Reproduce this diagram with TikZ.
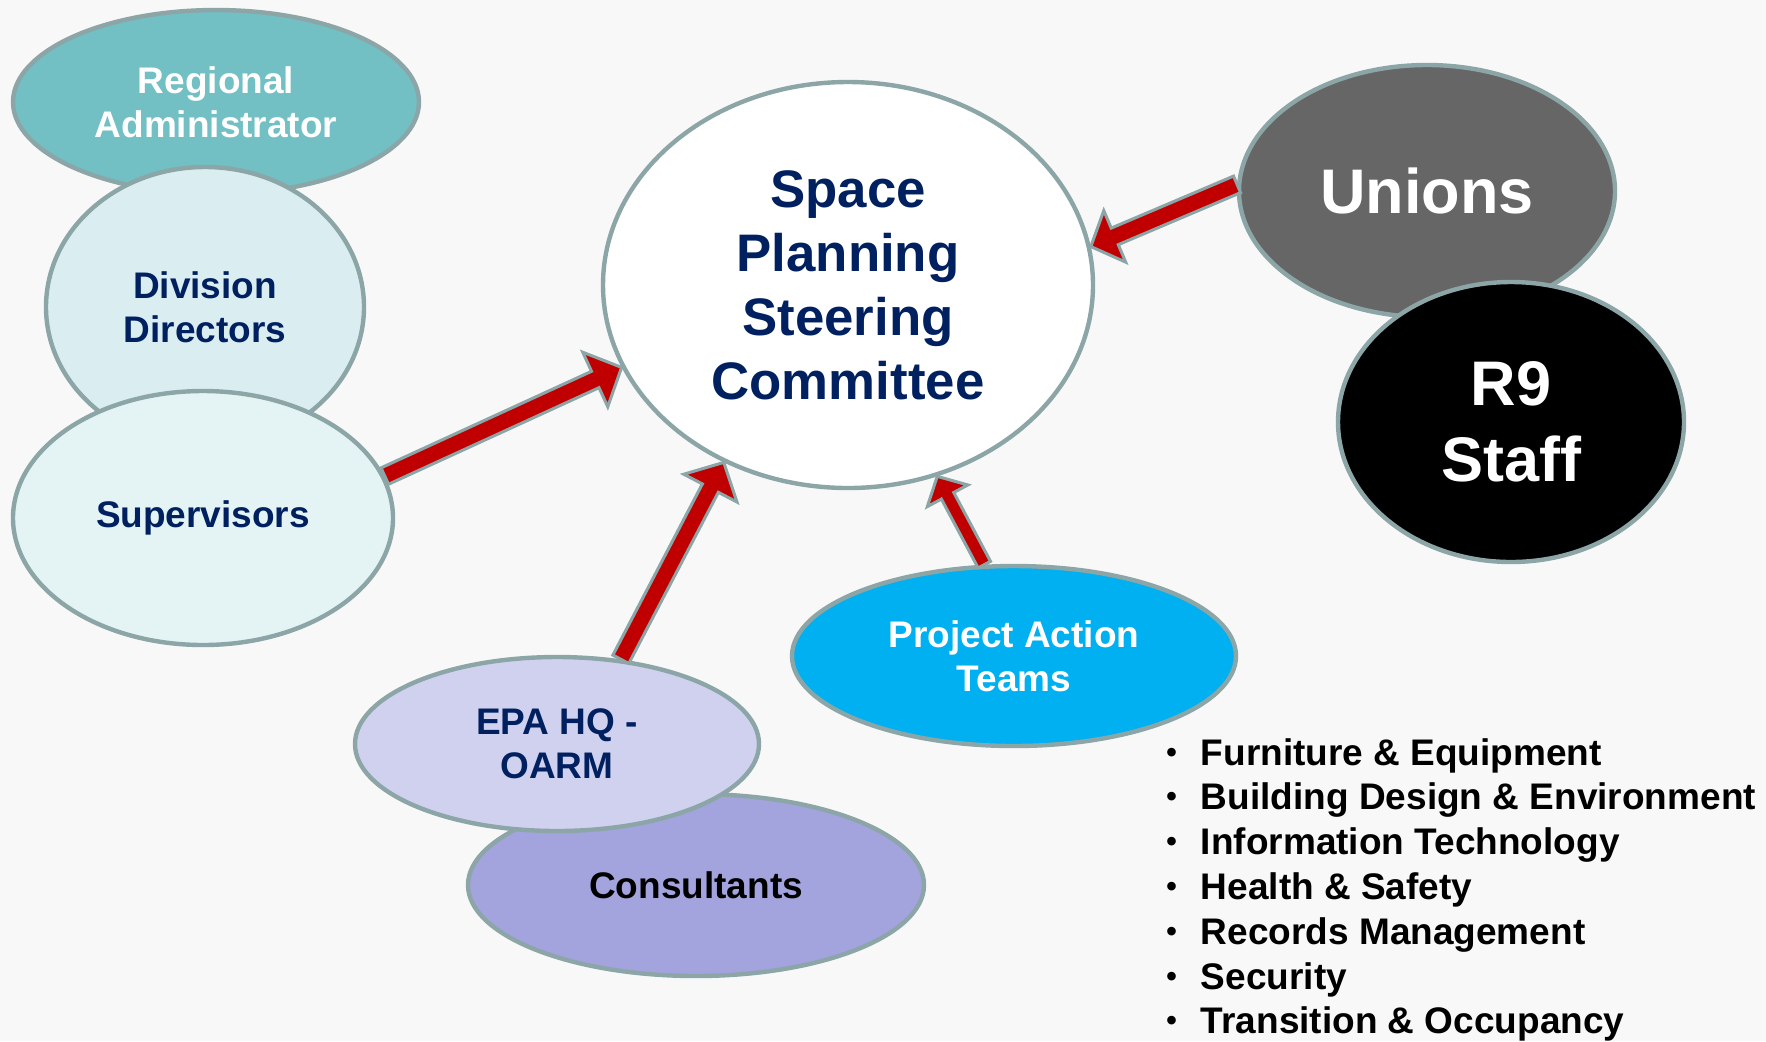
\documentclass[tikz,border=0pt]{standalone}
\usepackage{fontspec}
\setmainfont{Liberation Sans}
\usetikzlibrary{shapes.geometric,calc}

\definecolor{paper}{HTML}{F8F8F8}
\definecolor{rim}{HTML}{8CA5A7}
\definecolor{navy}{HTML}{002060}
\definecolor{arrowred}{HTML}{C00000}
\definecolor{regfill}{HTML}{72BFC4}
\definecolor{divfill}{HTML}{DAEEF1}
\definecolor{supfill}{HTML}{E4F4F5}
\definecolor{unifill}{HTML}{666666}
\definecolor{patfill}{HTML}{00B0F0}
\definecolor{epafill}{HTML}{D0D1EF}
\definecolor{confill}{HTML}{A3A3DE}

% block arrow: tail, tip, shaft half width, head half width, head length
\newcommand{\flowarrow}[5]{%
  \coordinate (t) at (#1);
  \coordinate (h) at (#2);
  \coordinate (b) at ($(h)!#5!(t)$);
  \draw[arrowpart] ($(t)!#3!90:(h)$) -- ($(b)!#3!-90:(t)$) -- ($(b)!#4!-90:(t)$) -- (h)
    -- ($(b)!#4!90:(t)$) -- ($(b)!#3!90:(t)$) -- ($(t)!#3!-90:(h)$) -- cycle;
}
\newcommand{\dotmark}{\raisebox{1.5pt}{\fontsize{15pt}{15pt}\selectfont •}}

\begin{document}
\begin{tikzpicture}[x=0.5pt,y=-0.5pt,
    bubble/.style={ellipse,draw=rim,line width=2.2pt,inner sep=2pt,align=center,
      font=\fontsize{18.5pt}{22.2pt}\selectfont\bfseries},
    arrowpart/.style={fill=arrowred,draw=rim,line width=1.5pt,line join=miter}]
    \fill[paper] (0,0) rectangle (1766,1041);
    \useasboundingbox (0,0) rectangle (1766,1041);

    % left stack
    \node[bubble,fill=regfill,text=white,minimum width=203pt,minimum height=92pt] (reg) at (216,102) {Regional\\Administrator};
    \node[bubble,fill=divfill,text=navy,minimum width=159pt,minimum height=140pt] (div) at (205,307) {Division\\Directors};
    \node[bubble,fill=supfill,text=navy,minimum width=190pt,minimum height=127pt] (sup) at (203,518) {Supervisors};

    % committee
    \node[bubble,fill=white,text=navy,minimum width=245pt,minimum height=203pt,
      font=\fontsize{26.4pt}{32pt}\selectfont\bfseries] (com) at (848,285) {Space\\Planning\\Steering\\Committee};

    % right stack
    \node[bubble,fill=unifill,text=white,minimum width=188pt,minimum height=126pt,
      font=\fontsize{31.5pt}{38pt}\selectfont\bfseries] (uni) at (1427,191) {Unions};
    \node[bubble,fill=black,text=white,minimum width=173pt,minimum height=140pt,
      font=\fontsize{31.5pt}{38pt}\selectfont\bfseries] (r9) at (1511,422) {R9\\Staff};

    % bottom
    \node[bubble,fill=patfill,text=white,minimum width=222pt,minimum height=90pt] (pat) at (1014,656) {Project Action\\Teams};
    \node[bubble,fill=confill,text=black,minimum width=228pt,minimum height=91pt] (con) at (696,885) {Consultants};
    \node[bubble,fill=epafill,text=navy,minimum width=202pt,minimum height=87pt] (epa) at (557,744) {EPA HQ -\\OARM};

    \flowarrow{sup.13}{com.200}{4.5pt}{15pt}{14.5pt}
    \flowarrow{epa.53}{com.235}{4.5pt}{15pt}{14.5pt}
    \flowarrow{pat.108}{com.295}{3.5pt}{11.5pt}{11pt}
    \flowarrow{uni.178}{com.9}{4.5pt}{14pt}{13pt}

    \node[anchor=base west,inner sep=0pt,font=\fontsize{18.5pt}{22.4pt}\selectfont\bfseries] (topics) at (1166,765)
      {\begin{tabular}[t]{@{}l@{\hspace{12pt}}l@{}}
        \dotmark & Furniture \& Equipment\\
        \dotmark & Building Design \& Environment\\
        \dotmark & Information Technology\\
        \dotmark & Health \& Safety\\
        \dotmark & Records Management\\
        \dotmark & Security\\
        \dotmark & Transition \& Occupancy
      \end{tabular}};
\end{tikzpicture}
\end{document}
